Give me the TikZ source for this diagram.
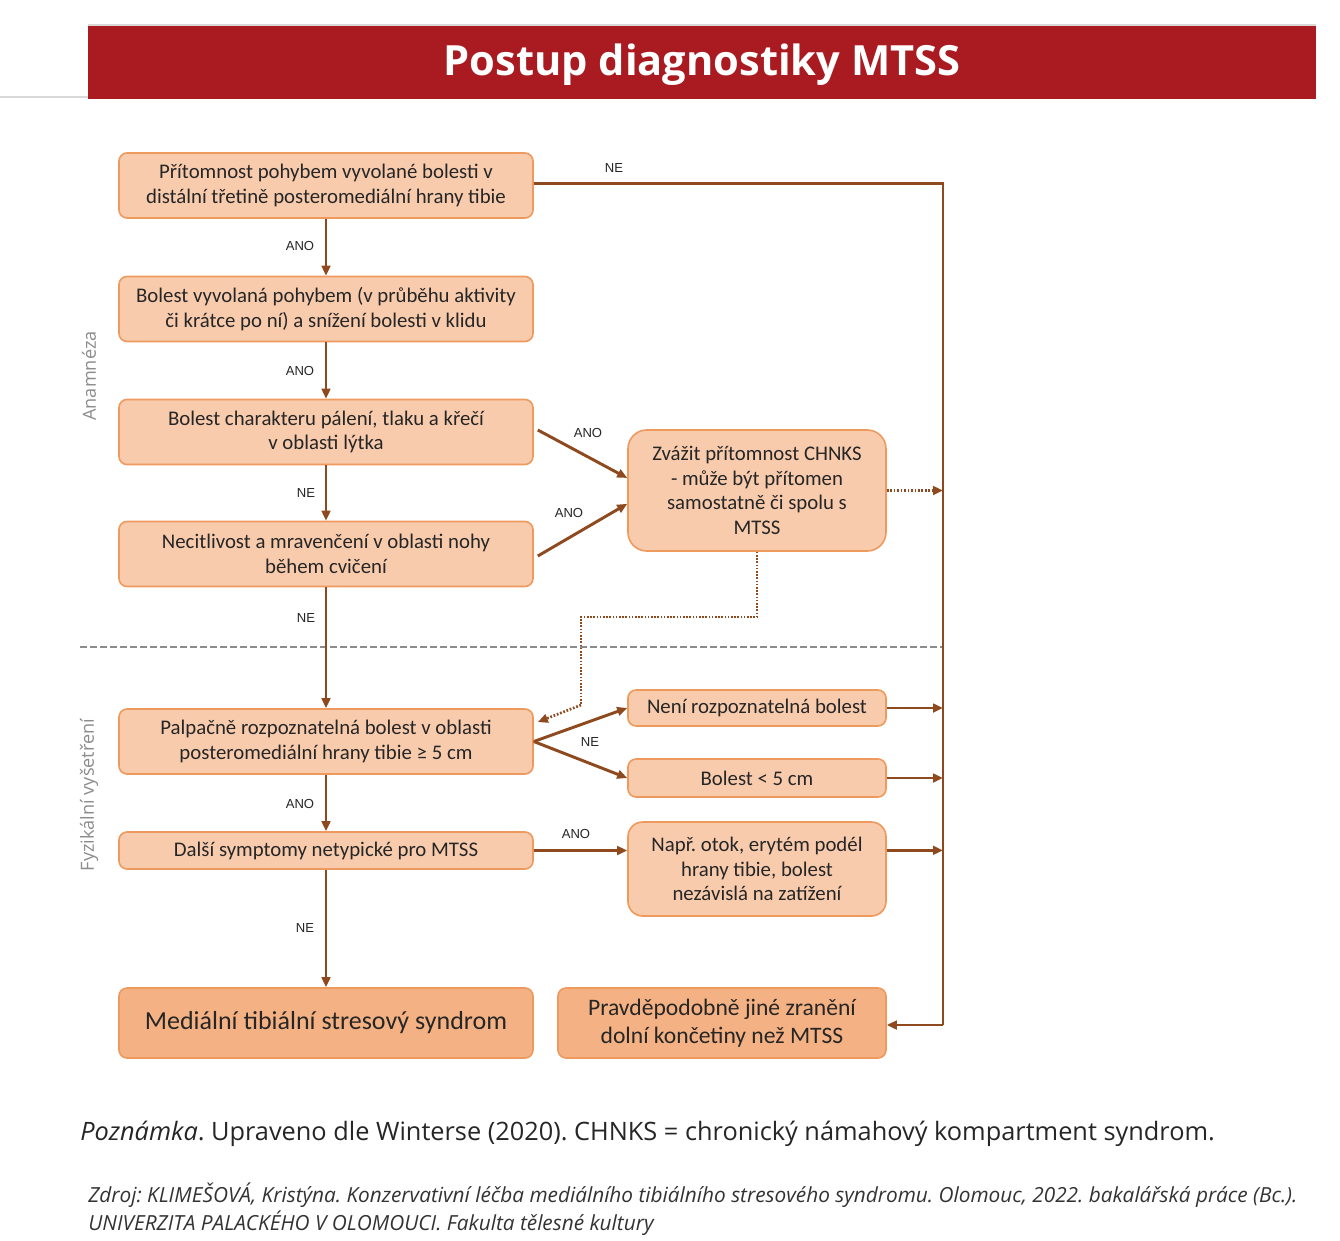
\documentclass[tikz,border=0pt]{standalone}
\usepackage{fontspec}
\setmainfont{Open Sans}
\newfontfamily\boxfont{Carlito}
\newfontfamily\lblfont{Liberation Sans}
\usetikzlibrary{arrows.meta,calc}
\definecolor{barred}{HTML}{A91B21}
\definecolor{boxfill}{HTML}{F8CBAD}
\definecolor{boxdark}{HTML}{F4B183}
\definecolor{boxline}{HTML}{EE9A5E}
\definecolor{arrowc}{HTML}{8E4A1E}
\definecolor{txt}{HTML}{262626}
\frenchspacing
\tikzset{
  fbox/.style={draw=boxline, line width=1.2pt, fill=boxfill, rounded corners=6pt,
    align=center, text=txt, inner sep=2pt, font=\boxfont\fontsize{15.6}{18.4}\selectfont},
  lbox/.style={fbox, minimum width=310.5pt, minimum height=48.75pt},
  rbox/.style={fbox, minimum width=193.5pt},
  bigbox/.style={fbox, fill=boxdark, minimum height=52.5pt, font=\boxfont\fontsize{19.5}{21}\selectfont},
  conn/.style={draw=arrowc, line width=2.2pt, -{Triangle[length=7.5pt,width=6.5pt]}},
  plain/.style={draw=arrowc, line width=2.2pt},
  dotconn/.style={draw=arrowc, line width=2pt, dash pattern=on 1.3pt off 1.3pt, -{Triangle[length=7.5pt,width=6.5pt]}},
  dotplain/.style={draw=arrowc, line width=1.6pt, dash pattern=on 1.2pt off 1.2pt},
  lbl/.style={font=\lblfont\fontsize{9.8}{11}\selectfont, text=txt, inner sep=0pt},
  side/.style={font=\fontsize{13.6}{15}\selectfont, text=black!45, rotate=90, inner sep=0pt},
}
\begin{document}
\begin{tikzpicture}[x=0.75pt,y=-0.75pt]
\useasboundingbox (0,0) rectangle (1340,1240);
\fill[white] (0,0) rectangle (1340,1240);
% title bar
\draw[black!15, line width=0.8pt] (0,97) -- (88,97);
\fill[barred] (88,25) rectangle (1316,99);
\draw[black!15, line width=0.8pt] (88,25) -- (1316,25);
\node[text=white, font=\bfseries\fontsize{31.2}{34}\selectfont] (title) at (702,65) {Postup diagnostiky MTSS};

% side labels
\node[side] (anam) at (89,376) {Anamnéza};
\node[side] (fyz) at (89,795) {Fyzikální vyšetření};

% dashed separator
\coordinate (sepL) at (80,647);
\coordinate (sepR) at (943,647);
\draw[black!45, line width=1pt, dash pattern=on 5pt off 2.5pt] (sepL) -- (sepR);

% left boxes
\node[lbox] (B1) at (326,185.5) {Přítomnost pohybem vyvolané bolesti v\\distální třetině posteromediální hrany tibie};
\node[lbox] (B2) at (326,309) {Bolest vyvolaná pohybem (v průběhu aktivity\\či krátce po ní) a snížení bolesti v klidu};
\node[lbox] (B3) at (326,432) {Bolest charakteru pálení, tlaku a křečí\\v oblasti lýtka};
\node[lbox] (B4) at (326,554) {Necitlivost a mravenčení v oblasti nohy\\během cvičení};
\node[lbox] (B5) at (326,741.5) {Palpačně rozpoznatelná bolest v oblasti\\posteromediální hrany tibie ≥ 5 cm};
\node[lbox, minimum height=27.75pt] (B6) at (326,850.5) {Další symptomy netypické pro MTSS};
\node[bigbox, minimum width=310.5pt] (B7) at (326,1023) {Mediální tibiální stresový syndrom};

% right boxes
\node[rbox, minimum height=90.75pt, rounded corners=14pt] (R1) at (757,490.5) {Zvážit přítomnost CHNKS\\- může být přítomen\\samostatně či spolu s\\MTSS};
\node[rbox, minimum height=27pt] (R2) at (757,708) {Není rozpoznatelná bolest};
\node[rbox, minimum height=28.5pt] (R3) at (757,778) {Bolest < 5 cm};
\node[rbox, minimum height=70.5pt, rounded corners=11pt] (R4) at (757,869) {Např. otok, erytém podél\\hrany tibie, bolest\\nezávislá na zatížení};
\node[bigbox, minimum width=246pt, font=\boxfont\fontsize{17.7}{21}\selectfont] (R5) at (722,1023) {Pravděpodobně jiné zranění\\dolní končetiny než MTSS};

% right collector line
\coordinate (vt) at (943,183.5);
\coordinate (vb) at (943,1025);
\draw[plain] (B1.east |- vt) -- (vt) -- (vb);
\draw[conn] (vb) -- (vb -| R5.east);
\draw[dotconn] (R1.east) -- (R1.east -| vt);
\draw[conn] (R2.east) -- (R2.east -| vt);
\draw[conn] (R3.east) -- (R3.east -| vt);
\draw[conn] ([yshift=14pt]R4.east) -- ([yshift=14pt]R4.east -| vt);

% vertical flow
\draw[conn] (B1) -- (B2);
\draw[conn] (B2) -- (B3);
\draw[conn] (B3) -- (B4);
\draw[conn] (B4) -- (B5);
\draw[conn] (B5) -- (B6);
\draw[conn] (B6) -- (B7);

% diagonals
\draw[conn] ([shift={(3pt,1.5pt)}]B3.east) -- ([yshift=9.4pt]R1.west);
\draw[conn] ([shift={(3pt,-1.5pt)}]B4.east) -- ([yshift=-10pt]R1.west);
\draw[conn] (B5.east) -- (R2.west);
\draw[conn] (B5.east) -- (R3.west);
\draw[conn] (B6.east) -- (B6.east -| R4.west);

% dotted feedback
\coordinate (d1) at (757,617);
\coordinate (d2) at (581,617);
\coordinate (d3) at (581,705);
\draw[dotplain] (R1.south) -- (d1) -- (d2) -- (d3);
\draw[dotconn] (d3) -- ([shift={(3pt,14.6pt)}]B5.east);

% labels
\node[lbl] (l0) at (614,168) {NE};
\node[lbl] (l1) at (300,246) {ANO};
\node[lbl] (l2) at (300,371) {ANO};
\node[lbl] (l3) at (306,493) {NE};
\node[lbl] (l4) at (306,618) {NE};
\node[lbl] (l5) at (300,804) {ANO};
\node[lbl] (l6) at (305,928) {NE};
\node[lbl] (l7) at (588,433) {ANO};
\node[lbl] (l8) at (569,513) {ANO};
\node[lbl] (l9) at (590,742) {NE};
\node[lbl] (l10) at (576,834) {ANO};

% note and source
\node[anchor=west, inner sep=0pt, text=black!85, font=\fontsize{19}{22}\selectfont] (note) at (80,1134) {\textit{Poznámka}. Upraveno dle Winterse (2020). CHNKS = chronický námahový kompartment syndrom.};
\node[anchor=north west, inner sep=0pt, align=left, text=black!80, font=\itshape\fontsize{15.6}{21}\selectfont] (src) at (88,1183) {Zdroj: KLIMEŠOVÁ, Kristýna. Konzervativní léčba mediálního tibiálního stresového syndromu. Olomouc, 2022. bakalářská práce (Bc.).\\UNIVERZITA PALACKÉHO V OLOMOUCI. Fakulta tělesné kultury};
\end{tikzpicture}
\end{document}
